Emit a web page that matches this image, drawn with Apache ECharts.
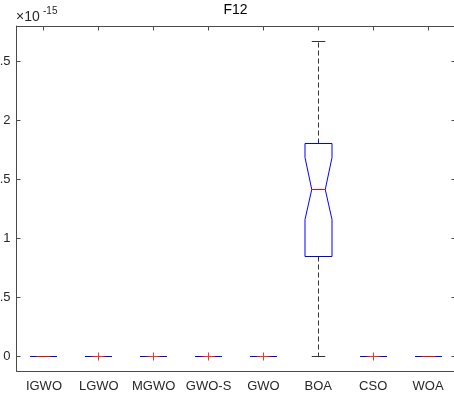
<!DOCTYPE html>
<html lang="en">
<head>
<meta charset="utf-8">
<title>F12</title>
<script src="https://cdn.jsdelivr.net/npm/echarts@6/dist/echarts.min.js"></script>
<style>
  html, body { margin: 0; padding: 0; background: #fff; }
  #main { width: 454px; height: 395px; }
</style>
</head>
<body>
<div id="main"></div>
<script>
// algorithms on the x axis
var categories = ['IGWO', 'LGWO', 'MGWO', 'GWO-S', 'GWO', 'BOA', 'CSO', 'WOA'];

// box statistics, in units of 1e-15
var lowerWhisker = [0, 0, 0, 0, 0, 0, 0, 0];
var q1 = [0, 0, 0, 0, 0, 0.84, 0, 0];
var median = [0, 0, 0, 0, 0, 1.41, 0, 0];
var q3 = [0, 0, 0, 0, 0, 1.80, 0, 0];
var upperWhisker = [0, 0, 0, 0, 0, 2.665, 0, 0];
var notchLow = [0, 0, 0, 0, 0, 1.155, 0, 0];
var notchHigh = [0, 0, 0, 0, 0, 1.68, 0, 0];

// outliers ('+' markers)
var outlierCats = ['LGWO', 'MGWO', 'GWO-S', 'GWO', 'CSO'];
var outlierVals = [0, 0, 0, 0, 0];

var yTicks = [0, 0.5, 1, 1.5, 2, 2.5];
var yMin = -0.127, yMax = 2.797;
var exponent = '-15';

var textColor = '#262626';
var axisColor = '#4a4a4a';
var font = 'Liberation Sans, Arial, sans-serif';

var boxData = categories.map(function (c, i) {
    return [i, lowerWhisker[i], q1[i], median[i], q3[i], upperWhisker[i], notchLow[i], notchHigh[i]];
});
var outlierData = outlierCats.map(function (c, k) {
    return [categories.indexOf(c), outlierVals[k]];
});

// snap to pixel centres so 1px strokes stay crisp
function px(v) { return Math.round(v - 0.5) + 0.5; }

function renderBox(params, api) {
    var i = api.value(0);
    var bw = Math.round(api.size([1, 0])[0] * 0.5);
    var hw = bw / 2, qw = bw / 4;
    var x = px(api.coord([i, 0])[0]);
    function y(dim) { return px(api.coord([i, api.value(dim)])[1]); }
    var lo = y(1), b1 = y(2), md = y(3), b3 = y(4), hi = y(5), nl = y(6), nh = y(7);

    var whisk = { stroke: '#333', lineWidth: 1, lineDash: [5, 3] };
    var cap = { stroke: '#333', lineWidth: 1 };
    var blue = { fill: 'none', stroke: '#0000ff', lineWidth: 1, lineJoin: 'round' };
    var kids = [
        { type: 'line', shape: { x1: x, y1: b3, x2: x, y2: hi }, style: whisk },
        { type: 'line', shape: { x1: x, y1: b1, x2: x, y2: lo }, style: whisk },
        { type: 'line', shape: { x1: x - qw, y1: hi, x2: x + qw, y2: hi }, style: cap },
        { type: 'line', shape: { x1: x - qw, y1: lo, x2: x + qw, y2: lo }, style: cap }
    ];
    if (b3 === b1) {
        kids.push({ type: 'line', shape: { x1: x - hw, y1: md, x2: x + hw, y2: md }, style: blue });
    } else {
        kids.push({
            type: 'polygon',
            shape: { points: [
                [x - hw, b3], [x + hw, b3], [x + hw, nh], [x + qw, md], [x + hw, nl],
                [x + hw, b1], [x - hw, b1], [x - hw, nl], [x - qw, md], [x - hw, nh]
            ] },
            style: blue
        });
    }
    kids.push({ type: 'line', shape: { x1: x - qw, y1: md, x2: x + qw, y2: md },
                style: { stroke: '#ff0000', lineWidth: 1 } });
    return { type: 'group', children: kids };
}

function renderPlus(params, api) {
    var p = api.coord([api.value(0), api.value(1)]);
    var cx = px(p[0]), cy = px(p[1]);
    var s = 4;
    var st = { stroke: '#ff3030', lineWidth: 1 };
    return {
        type: 'group',
        children: [
            { type: 'line', shape: { x1: cx - s, y1: cy, x2: cx + s, y2: cy }, style: st },
            { type: 'line', shape: { x1: cx, y1: cy - s, x2: cx, y2: cy + s }, style: st }
        ]
    };
}

// top frame edge with its inward ticks, placed through the axes at yMax
function renderTopEdge(params, api) {
    var n = categories.length;
    var w = api.size([1, 0])[0];
    var first = api.coord([0, yMax]);
    var yy = px(first[1]);
    var kids = [{ type: 'line',
        shape: { x1: first[0] - w / 2, y1: yy, x2: first[0] + w * (n - 0.5), y2: yy },
        style: { stroke: axisColor, lineWidth: 1 } }];
    for (var i = 0; i < n; i++) {
        var tx = px(api.coord([i, yMax])[0]);
        kids.push({ type: 'line', shape: { x1: tx, y1: yy, x2: tx, y2: yy + 4 },
                    style: { stroke: axisColor, lineWidth: 1 } });
    }
    return { type: 'group', children: kids };
}

var chart = echarts.init(document.getElementById('main'));

var lineStyle = { color: axisColor, width: 1 };

chart.setOption({
    animation: false,
    title: {
        text: 'F12',
        left: 235.5,
        top: 3,
        padding: 0,
        textAlign: 'center',
        textStyle: { fontFamily: font, fontSize: 14, fontWeight: 'normal', color: '#000' }
    },
    grid: {
        left: 16.5, top: 26, width: 439, height: 345,
        containLabel: false, outerBoundsMode: 'none'
    },
    xAxis: [{
        type: 'category',
        data: categories,
        position: 'bottom',
        boundaryGap: true,
        axisLine: { onZero: false, lineStyle: lineStyle },
        axisTick: { inside: true, length: 4, alignWithLabel: true, lineStyle: lineStyle },
        axisLabel: { color: textColor, fontFamily: font, fontSize: 13, margin: 9, interval: 0 },
        splitLine: { show: false }
    }],
    yAxis: [{
        type: 'value',
        min: yMin,
        max: yMax,
        position: 'left',
        axisLine: { show: true, onZero: false, lineStyle: lineStyle },
        axisTick: { show: true, inside: true, length: 4, lineStyle: lineStyle, customValues: yTicks },
        axisLabel: { color: textColor, fontFamily: font, fontSize: 13, margin: 6, customValues: yTicks },
        splitLine: { show: false }
    }, {
        type: 'value',
        min: yMin,
        max: yMax,
        position: 'right',
        axisLine: { show: true, onZero: false, lineStyle: lineStyle },
        axisTick: { show: true, inside: true, length: 4, lineStyle: lineStyle, customValues: yTicks },
        axisLabel: { show: false },
        splitLine: { show: false }
    }],
    graphic: [
        { type: 'text', left: 16, top: 10,
          style: { text: '\u00d710', font: '14px ' + font, fill: textColor } },
        { type: 'text', left: 43, top: 6,
          style: { text: exponent, font: '10px ' + font, fill: textColor } }
    ],
    series: [{
        type: 'custom',
        renderItem: renderBox,
        data: boxData,
        encode: { x: 0, y: [1, 2, 3, 4, 5] },
        z: 2
    }, {
        type: 'custom',
        renderItem: renderPlus,
        data: outlierData,
        encode: { x: 0, y: 1 },
        z: 3
    }, {
        type: 'custom',
        renderItem: renderTopEdge,
        clip: false,
        silent: true,
        data: [[0, yMax]],
        encode: { x: 0, y: 1 },
        z: 100
    }]
});
</script>
</body>
</html>
